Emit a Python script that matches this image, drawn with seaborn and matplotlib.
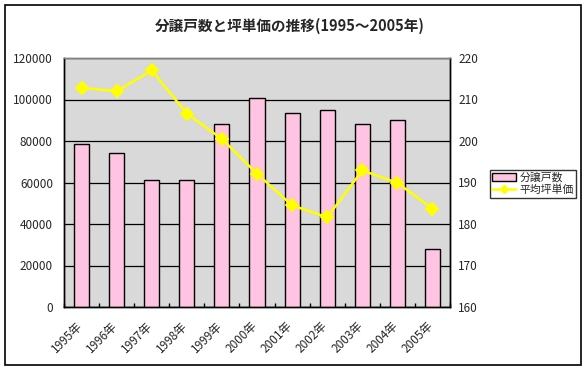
import matplotlib
matplotlib.use("Agg")
import matplotlib.pyplot as plt
import matplotlib.transforms as mtransforms
from matplotlib.patches import Patch, Rectangle
from matplotlib.lines import Line2D
import seaborn as sns
import numpy as np

years = ["1995年", "1996年", "1997年", "1998年", "1999年", "2000年",
         "2001年", "2002年", "2003年", "2004年", "2005年"]
units = [78500, 74000, 61000, 61000, 88000, 100500, 93500, 95000, 88000, 90000, 28000]
price = [212.8, 212.0, 217.0, 206.6, 200.5, 192.1, 184.5, 181.6, 192.9, 189.9, 183.7]
left_ticks = [0, 20000, 40000, 60000, 80000, 100000, 120000]
right_ticks = [160, 170, 180, 190, 200, 210, 220]
title = "分譲戸数と坪単価の推移(1995～2005年)"
bar_name = "分譲戸数"
line_name = "平均坪単価"

sns.set_style("white")
plt.rcParams['font.family'] = ['Noto Sans CJK JP', 'DejaVu Sans']

W, H = 588, 371
fig = plt.figure(figsize=(W / 100, H / 100), dpi=100)
ax = fig.add_axes([64 / W, 1 - 307 / H, (450 - 64) / W, (307 - 58) / H])
ax.set_facecolor("#D9D9D9")

pink = "#FFC4E1"
sns.barplot(x=years, y=units, ax=ax, color=pink, edgecolor="black",
            linewidth=1.0, width=0.43, saturation=1, zorder=3)
ax.set_ylim(0, 120000)
ax.set_yticks(left_ticks)
ax.yaxis.grid(True, color="black", linewidth=0.9, zorder=1)
ax.set_axisbelow(True)
ax.set_xlabel("")
ax.set_ylabel("")

ax2 = ax.twinx()
sns.pointplot(x=years, y=price, ax=ax2, color="#FFFF00", markers="D",
              markersize=6, linewidth=1.8)
ax2.set_ylim(160, 220)
ax2.set_yticks(right_ticks)
ax2.set_ylabel("")
ax2.set_xlabel("")
ax.set_xlim(-0.5, len(years) - 0.5)
ax2.set_xlim(-0.5, len(years) - 0.5)

for a in (ax, ax2):
    for s in a.spines.values():
        s.set_color("black")
        s.set_linewidth(1.0)
ax.spines["top"].set_color("#808080")
ax2.spines["top"].set_color("#808080")

ax.tick_params(axis="y", length=0, pad=8, labelsize=8.5)
ax2.tick_params(axis="y", length=0, pad=6, labelsize=8.5)

ax.set_xticks(range(len(years)))
ax.set_xticks(np.arange(-0.5, len(years), 1.0), minor=True)
ax.tick_params(axis="x", which="major", length=0, pad=9, labelsize=8.5)
ax.tick_params(axis="x", which="minor", direction="in", length=3, width=1, color="black", bottom=True)
ax.set_xticklabels(years, rotation=45, ha="right", va="top", rotation_mode="anchor")
offset = mtransforms.ScaledTranslation(-0.06, 0, fig.dpi_scale_trans)
for lab in ax.get_xticklabels():
    lab.set_transform(lab.get_transform() + offset)

fig.text(290 / W, 1 - 26 / H, title, ha="center", va="center", fontsize=10.5, fontweight="bold")

handles = [Patch(facecolor=pink, edgecolor="black", linewidth=1.0),
           Line2D([0], [0], color="#FFFF00", linewidth=1.8, marker="D", markersize=4.5)]
leg = fig.legend(handles, [bar_name, line_name], loc="center",
                 bbox_to_anchor=(533 / W, 1 - 184 / H), fontsize=7.8,
                 frameon=True, fancybox=False, edgecolor="black",
                 borderpad=0.25, labelspacing=0.15, handlelength=2.2, handletextpad=0.3,
                 borderaxespad=0)
leg.get_frame().set_linewidth(1.0)

fig.patches.append(Rectangle((5 / W, 1 - 365 / H), 576 / W, 360 / H,
                             transform=fig.transFigure, fill=False,
                             edgecolor="black", linewidth=1.2))

fig.savefig("out.png", dpi=100)
